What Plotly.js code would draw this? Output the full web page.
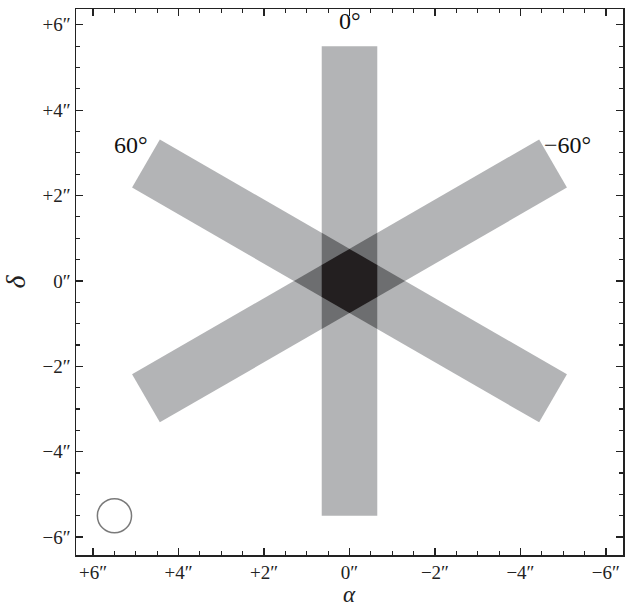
<!DOCTYPE html>
<html>
<head>
<meta charset="utf-8">
<script src="https://cdn.plot.ly/plotly-3.0.1.min.js"></script>
<style>html,body{margin:0;padding:0;background:#fff;}#plot{width:638px;height:610px;}</style>
</head>
<body>
<div id="plot"></div>
<script>
// ---- data ----
const slitAngles = [0, 60, -60];          // position angle of each slit, degrees
const slitLabels = ['0°', '60°', '−60°'];
const slitLength = 11.0;                  // arcsec
const slitWidth = 1.3;                    // arcsec
const beamCenter = [5.5, -5.5];           // arcsec (alpha, delta)
const beamDiameter = 0.8;                 // arcsec
const tickValues = [6, 4, 2, 0, -2, -4, -6];
const tickLabels = ['+6″', '+4″', '+2″', '0″', '−2″', '−4″', '−6″'];
const xTitle = 'α';
const yTitle = 'δ';

const SERIF = 'Liberation Serif';

// ---- geometry helpers ----
function slitPolygon(pa) {
  const t = pa * Math.PI / 180;
  const u = [Math.sin(t), Math.cos(t)];
  const v = [Math.cos(t), -Math.sin(t)];
  const h = slitLength / 2, w = slitWidth / 2;
  return [[1,1],[1,-1],[-1,-1],[-1,1]].map(([a,b]) =>
    [a*h*u[0] + b*w*v[0], a*h*u[1] + b*w*v[1]]);
}
function clip(subject, clipper) {
  let out = subject;
  let area = 0;
  for (let i = 0; i < clipper.length; i++) {
    const p = clipper[i], q = clipper[(i+1)%clipper.length];
    area += p[0]*q[1] - q[0]*p[1];
  }
  const sgn = area > 0 ? 1 : -1;
  for (let i = 0; i < clipper.length; i++) {
    const A = clipper[i], B = clipper[(i+1)%clipper.length];
    const inside = P => sgn*((B[0]-A[0])*(P[1]-A[1]) - (B[1]-A[1])*(P[0]-A[0])) >= 0;
    const inter = (P, Q) => {
      const a1 = B[1]-A[1], b1 = A[0]-B[0], c1 = a1*A[0] + b1*A[1];
      const a2 = Q[1]-P[1], b2 = P[0]-Q[0], c2 = a2*P[0] + b2*P[1];
      const d = a1*b2 - a2*b1;
      return [(c1*b2 - c2*b1)/d, (a1*c2 - a2*c1)/d];
    };
    const input = out; out = [];
    if (!input.length) break;
    for (let j = 0; j < input.length; j++) {
      const P = input[j], Q = input[(j+1)%input.length];
      const pin = inside(P), qin = inside(Q);
      if (pin) { out.push(P); if (!qin) out.push(inter(P, Q)); }
      else if (qin) out.push(inter(P, Q));
    }
  }
  return out;
}
function pathOf(poly) {
  return 'M' + poly.map(p => p[0] + ',' + p[1]).join('L') + 'Z';
}

const polys = slitAngles.map(slitPolygon);
const shapes = [];
polys.forEach(p => shapes.push({type:'path', xref:'x', yref:'y', path:pathOf(p),
  fillcolor:'#b3b4b6', line:{width:0}, layer:'below'}));
for (let i = 0; i < polys.length; i++)
  for (let j = i+1; j < polys.length; j++) {
    const q = clip(polys[i], polys[j]);
    if (q.length > 2) shapes.push({type:'path', xref:'x', yref:'y', path:pathOf(q),
      fillcolor:'#6d6e70', line:{width:0}, layer:'below'});
  }
let tri = polys[0];
for (let k = 1; k < polys.length; k++) tri = clip(tri, polys[k]);
if (tri.length > 2) shapes.push({type:'path', xref:'x', yref:'y', path:pathOf(tri),
  fillcolor:'#231f20', line:{width:0}, layer:'below'});
shapes.push({type:'circle', xref:'x', yref:'y',
  x0: beamCenter[0] - beamDiameter/2, x1: beamCenter[0] + beamDiameter/2,
  y0: beamCenter[1] - beamDiameter/2, y1: beamCenter[1] + beamDiameter/2,
  line:{color:'#7a7a7a', width:1.5}, fillcolor:'rgba(0,0,0,0)'});

const annotations = slitAngles.map((pa, i) => {
  const t = pa * Math.PI / 180, r = slitLength/2 + (pa === 0 ? 0.6 : 0.4);
  return {x: r*Math.sin(t), y: r*Math.cos(t), xref:'x', yref:'y', text: slitLabels[i],
    showarrow:false, yshift: pa === 0 ? 0 : 10,
    font:{family:SERIF, size:24, color:'#111'}};
});
// x-axis title as annotation (below the tick labels)
annotations.push({x:0.5, y:-0.099, xref:'paper', yref:'paper', text:'<i>' + xTitle + '</i>',
  showarrow:false, xanchor:'center', yanchor:'bottom',
  font:{family:SERIF, size:23, color:'#222'}});

const axisCommon = {
  showgrid:false, zeroline:false, showline:true, linecolor:'#222', linewidth:1.5,
  mirror:'allticks', ticks:'inside', ticklen:7, tickwidth:1.3, tickcolor:'#222',
  tickvals: tickValues, ticktext: tickLabels,
  tickfont:{family:SERIF, size:19, color:'#222'},
  minor:{dtick:0.5, ticks:'inside', ticklen:4, tickwidth:1.1, tickcolor:'#222'},
};

const layout = {
  width:638, height:610,
  font:{family:SERIF},
  margin:{l:76, r:15, t:9, b:55},
  paper_bgcolor:'#fff', plot_bgcolor:'#fff',
  showlegend:false,
  xaxis: Object.assign({}, axisCommon, {range:[6.4, -6.4]}),
  yaxis: Object.assign({}, axisCommon, {range:[-6.42, 6.37],
    title:{text:'<i>' + yTitle + '</i>', font:{family:SERIF, size:28, color:'#222'}, standoff:10}}),
  shapes: shapes,
  annotations: annotations,
};

Plotly.newPlot('plot', [{x:[], y:[], type:'scatter', mode:'markers', hoverinfo:'skip'}], layout,
  {staticPlot:true, displayModeBar:false});
</script>
</body>
</html>
